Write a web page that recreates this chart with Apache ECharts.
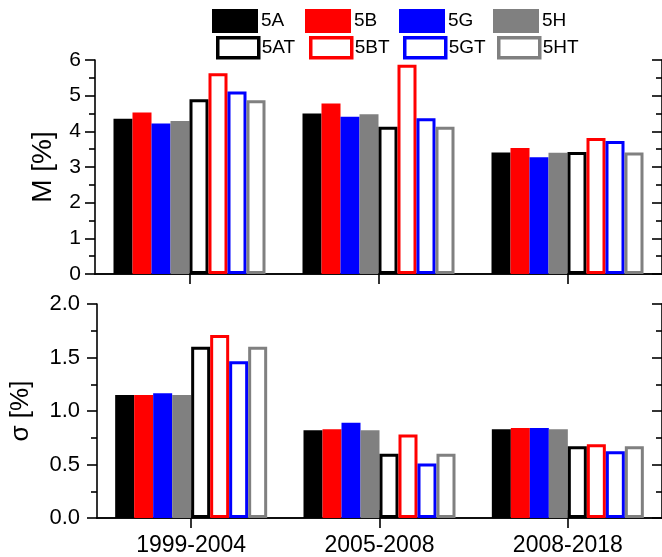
<!DOCTYPE html>
<html>
<head>
<meta charset="utf-8">
<script src="https://cdn.jsdelivr.net/npm/echarts@6/dist/echarts.min.js"></script>
<style>
html,body{margin:0;padding:0;background:#fff;}
#chart{width:662px;height:557px;}
</style>
</head>
<body>
<div id="chart"></div>
<script>
// ---- data ----
const categories = ['1999-2004', '2005-2008', '2008-2018'];
const seriesNames = ['5A', '5B', '5G', '5H', '5AT', '5BT', '5GT', '5HT'];
// M [%]
const m5A  = [4.35, 4.50, 3.41];
const m5B  = [4.53, 4.78, 3.53];
const m5G  = [4.22, 4.41, 3.27];
const m5H  = [4.29, 4.48, 3.40];
const m5AT = [4.90, 4.13, 3.42];
const m5BT = [5.63, 5.87, 3.81];
const m5GT = [5.12, 4.37, 3.73];
const m5HT = [4.87, 4.13, 3.41];
// sigma [%]
const s5A  = [1.15, 0.82, 0.83];
const s5B  = [1.15, 0.83, 0.84];
const s5G  = [1.165, 0.89, 0.84];
const s5H  = [1.15, 0.82, 0.83];
const s5AT = [1.60, 0.60, 0.67];
const s5BT = [1.71, 0.78, 0.69];
const s5GT = [1.465, 0.51, 0.625];
const s5HT = [1.60, 0.60, 0.67];
const mTicks = [0, 1, 2, 3, 4, 5, 6];
const sTicks = ['0.0', '0.5', '1.0', '1.5', '2.0'];

const mData = [m5A, m5B, m5G, m5H, m5AT, m5BT, m5GT, m5HT];
const sData = [s5A, s5B, s5G, s5H, s5AT, s5BT, s5GT, s5HT];
const colors = ['#000000', '#ff0000', '#0000ff', '#808080', '#000000', '#ff0000', '#0000ff', '#808080'];
const hollow = [false, false, false, false, true, true, true, true];

const FONT = 'Liberation Sans';
const axisLineStyle = { color: '#000', width: 1.6 };

function makeSeries(data, idx) {
  return data.map((vals, i) => ({
    name: seriesNames[i],
    type: 'bar',
    xAxisIndex: idx * 2,
    yAxisIndex: idx * 2,
    barWidth: 19,
    barGap: '0%',
    data: vals,
    itemStyle: hollow[i]
      ? { color: '#ffffff', borderColor: colors[i], borderWidth: 3 }
      : { color: colors[i], borderWidth: 0 },
    emphasis: { disabled: true },
    animation: false
  }));
}

const legendLefts = [212, 305, 399, 493];
const legends = [];
seriesNames.forEach((n, i) => {
  const col = i % 4;
  const row = i < 4 ? 0 : 1;
  legends.push({
    left: row === 0 ? legendLefts[col] : legendLefts[col] + 4,
    top: row === 0 ? 9 : 36,
    padding: 0,
    itemWidth: row === 0 ? 46 : 41,
    itemHeight: row === 0 ? 24 : 20,
    selectedMode: false,
    textStyle: { fontFamily: FONT, fontSize: 19, color: '#000', padding: [0, 0, 0, -2] },
    data: [{
      name: n,
      icon: 'rect',
      itemStyle: hollow[i]
        ? { color: '#ffffff', borderColor: colors[i], borderWidth: 3.5 }
        : { color: colors[i], borderWidth: 0 }
    }]
  });
});

const grids = [
  { left: 95, top: 60, width: 573, height: 214 },
  { left: 95, top: 304, width: 573, height: 215 }
];

const xAxes = [
  // top grid bottom
  { type: 'category', gridIndex: 0, position: 'bottom', data: categories,
    axisLine: { lineStyle: axisLineStyle },
    axisTick: { show: true, alignWithLabel: true, length: 10, lineStyle: { color: '#000', width: 1.6 } },
    axisLabel: { show: false } },
  // top grid top border
  { type: 'category', gridIndex: 0, position: 'top', data: categories,
    axisLine: { lineStyle: axisLineStyle },
    axisTick: { show: false }, axisLabel: { show: false } },
  // bottom grid bottom
  { type: 'category', gridIndex: 1, position: 'bottom', data: categories,
    axisLine: { lineStyle: axisLineStyle },
    axisTick: { show: true, alignWithLabel: true, length: 10, lineStyle: { color: '#000', width: 1.6 } },
    axisLabel: { show: true, margin: 16, fontFamily: FONT, fontSize: 23, color: '#000' } },
  // bottom grid top border
  { type: 'category', gridIndex: 1, position: 'top', data: categories,
    axisLine: { lineStyle: axisLineStyle },
    axisTick: { show: true, alignWithLabel: true, length: 8, lineStyle: { color: '#000', width: 1.6 } },
    axisLabel: { show: false } }
];

const yAxes = [
  { type: 'value', gridIndex: 0, position: 'left', min: 0, max: 6, interval: 1,
    name: 'M [%]', nameLocation: 'middle', nameGap: 38,
    nameTextStyle: { fontFamily: FONT, fontSize: 28, color: '#000' },
    axisLine: { show: true, lineStyle: axisLineStyle },
    axisTick: { show: true, length: 10, lineStyle: { color: '#000', width: 1.6 } },
    minorTick: { show: true, splitNumber: 2, length: 6, lineStyle: { color: '#000', width: 1.6 } },
    splitLine: { show: false },
    axisLabel: { margin: 14, fontFamily: FONT, fontSize: 21, color: '#000',
      formatter: v => String(mTicks[Math.round(v)]) } },
  { type: 'value', gridIndex: 0, position: 'right', min: 0, max: 6, interval: 1,
    axisLine: { show: true, lineStyle: axisLineStyle },
    axisTick: { show: true, inside: true, length: 10, lineStyle: { color: '#000', width: 1.6 } },
    minorTick: { show: true, splitNumber: 2, length: 6, lineStyle: { color: '#000', width: 1.6 } },
    splitLine: { show: false }, axisLabel: { show: false } },
  { type: 'value', gridIndex: 1, position: 'left', min: 0, max: 2, interval: 0.5,
    name: 'σ [%]', nameLocation: 'middle', nameGap: 63,
    nameTextStyle: { fontFamily: FONT, fontSize: 26, color: '#000' },
    axisLine: { show: true, lineStyle: axisLineStyle },
    axisTick: { show: true, length: 10, lineStyle: { color: '#000', width: 1.6 } },
    minorTick: { show: true, splitNumber: 2, length: 6, lineStyle: { color: '#000', width: 1.6 } },
    splitLine: { show: false },
    axisLabel: { margin: 17, fontFamily: FONT, fontSize: 22, color: '#000',
      formatter: v => sTicks[Math.round(v * 2)] } },
  { type: 'value', gridIndex: 1, position: 'right', min: 0, max: 2, interval: 0.5,
    axisLine: { show: true, lineStyle: axisLineStyle },
    axisTick: { show: true, inside: true, length: 10, lineStyle: { color: '#000', width: 1.6 } },
    minorTick: { show: true, splitNumber: 2, length: 6, lineStyle: { color: '#000', width: 1.6 } },
    splitLine: { show: false }, axisLabel: { show: false } }
];

const chart = echarts.init(document.getElementById('chart'), null, { renderer: 'canvas' });
chart.setOption({
  backgroundColor: '#ffffff',
  animation: false,
  textStyle: { fontFamily: FONT },
  legend: legends,
  grid: grids,
  xAxis: xAxes,
  yAxis: yAxes,
  series: makeSeries(mData, 0).concat(makeSeries(sData, 1))
});
</script>
</body>
</html>
